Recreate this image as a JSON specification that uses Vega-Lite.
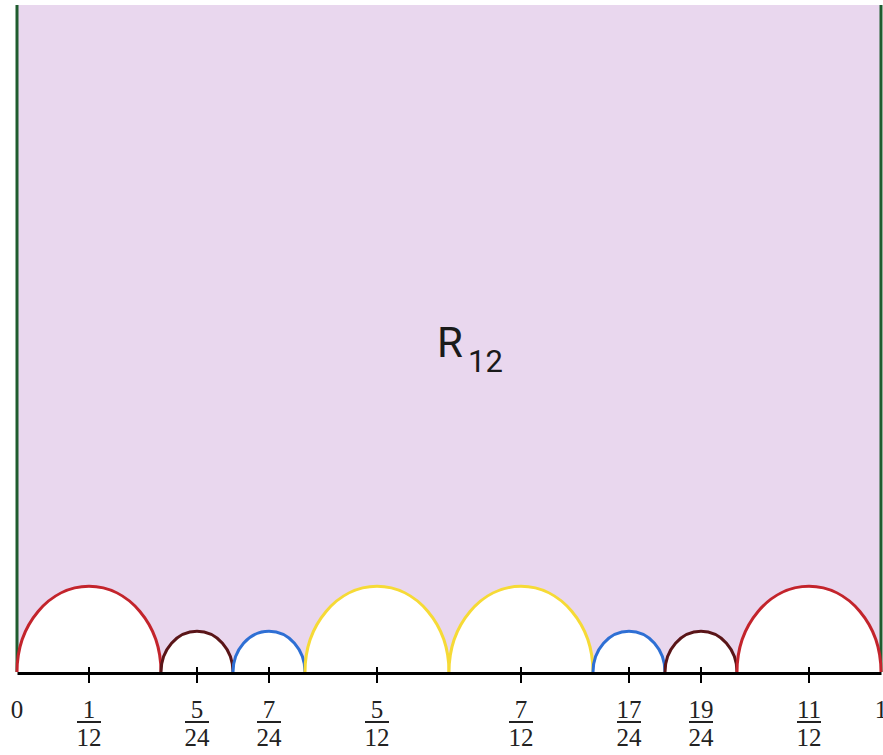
{
  "$schema": "https://vega.github.io/schema/vega-lite/v6.json",
  "width": 864,
  "height": 667,
  "autosize": "none",
  "padding": {"left": 17, "top": 5, "right": 2, "bottom": 83},
  "background": "white",
  "view": {"fill": "#e9d7ee", "stroke": null},
  "config": {
    "axisX": {"domain": true, "domainColor": "black", "domainWidth": 5, "ticks": false, "labels": false, "grid": false, "title": null, "zindex": 1}
  },
  "datasets": {
    "arcs": [
      {"center": 0.083333, "radius": 0.083333, "kind": "large", "pair": "1/12 & 11/12"},
      {"center": 0.208333, "radius": 0.041667, "kind": "small", "pair": "5/24 & 19/24"},
      {"center": 0.291667, "radius": 0.041667, "kind": "small", "pair": "7/24 & 17/24"},
      {"center": 0.416667, "radius": 0.083333, "kind": "large", "pair": "5/12 & 7/12"},
      {"center": 0.583333, "radius": 0.083333, "kind": "large", "pair": "5/12 & 7/12"},
      {"center": 0.708333, "radius": 0.041667, "kind": "small", "pair": "7/24 & 17/24"},
      {"center": 0.791667, "radius": 0.041667, "kind": "small", "pair": "5/24 & 19/24"},
      {"center": 0.916667, "radius": 0.083333, "kind": "large", "pair": "1/12 & 11/12"}
    ],
    "labels": [
      {"value": 0, "num": "0"},
      {"value": 0.083333, "num": "1", "den": "12"},
      {"value": 0.208333, "num": "5", "den": "24"},
      {"value": 0.291667, "num": "7", "den": "24"},
      {"value": 0.416667, "num": "5", "den": "12"},
      {"value": 0.583333, "num": "7", "den": "12"},
      {"value": 0.708333, "num": "17", "den": "24"},
      {"value": 0.791667, "num": "19", "den": "24"},
      {"value": 0.916667, "num": "11", "den": "12"},
      {"value": 1, "num": "1"}
    ]
  },
  "layer": [
    {
      "data": {"values": [{"edge": 0}, {"edge": 1}]},
      "mark": {"type": "rule", "color": "#1f5c2e", "strokeWidth": 3},
      "encoding": {
        "x": {"field": "edge", "type": "quantitative", "scale": {"domain": [0, 1], "nice": false, "zero": false}}
      }
    },
    {
      "data": {"name": "arcs"},
      "mark": {"type": "point", "filled": true, "fill": "white", "strokeWidth": 3, "opacity": 1, "fillOpacity": 1, "strokeOpacity": 1},
      "encoding": {
        "x": {"field": "center", "type": "quantitative", "scale": {"domain": [0, 1], "nice": false, "zero": false}},
        "y": {"datum": 0, "type": "quantitative", "scale": {"domain": [0, 1], "nice": false}, "axis": null},
        "size": {"field": "radius", "type": "quantitative", "scale": {"type": "pow", "exponent": 2, "domain": [0, 0.083333], "range": [0, 20736]}, "legend": null},
        "shape": {"field": "kind", "type": "nominal", "scale": {"domain": ["large", "small"], "range": ["M-1,0A1,1.19 0 0 1 1,0", "M-1,0A1,1.13 0 0 1 1,0"]}, "legend": null},
        "stroke": {"field": "pair", "type": "nominal", "scale": {"domain": ["1/12 & 11/12", "5/24 & 19/24", "7/24 & 17/24", "5/12 & 7/12"], "range": ["#c3242c", "#5a1518", "#2e6fd4", "#f6da36"]}, "legend": null}
      }
    },
    {
      "data": {"name": "labels"},
      "transform": [{"filter": "isValid(datum.den)"}],
      "mark": {"type": "tick", "orient": "vertical", "size": 16, "thickness": 2, "color": "black", "opacity": 1, "yOffset": 3},
      "encoding": {
        "x": {"field": "value", "type": "quantitative", "scale": {"domain": [0, 1], "nice": false, "zero": false}},
        "y": {"datum": 0, "type": "quantitative", "scale": {"domain": [0, 1], "nice": false}, "axis": null}
      }
    },
    {
      "data": {"name": "labels"},
      "transform": [{"filter": "isValid(datum.den)"}],
      "mark": {"type": "tick", "orient": "horizontal", "size": 24, "thickness": 2, "color": "#222", "opacity": 1, "yOffset": 50},
      "encoding": {
        "x": {"field": "value", "type": "quantitative", "scale": {"domain": [0, 1], "nice": false, "zero": false}},
        "y": {"datum": 0, "type": "quantitative", "scale": {"domain": [0, 1], "nice": false}, "axis": null}
      }
    },
    {
      "data": {"name": "labels"},
      "mark": {"type": "text", "font": "Liberation Serif", "fontSize": 25, "color": "#222", "align": "center", "baseline": "middle", "dy": 38},
      "encoding": {
        "x": {"field": "value", "type": "quantitative", "scale": {"domain": [0, 1], "nice": false, "zero": false}},
        "y": {"datum": 0, "type": "quantitative", "scale": {"domain": [0, 1], "nice": false}, "axis": null},
        "text": {"field": "num"}
      }
    },
    {
      "data": {"name": "labels"},
      "transform": [{"filter": "isValid(datum.den)"}],
      "mark": {"type": "text", "font": "Liberation Serif", "fontSize": 25, "color": "#222", "align": "center", "baseline": "middle", "dy": 66},
      "encoding": {
        "x": {"field": "value", "type": "quantitative", "scale": {"domain": [0, 1], "nice": false, "zero": false}},
        "y": {"datum": 0, "type": "quantitative", "scale": {"domain": [0, 1], "nice": false}, "axis": null},
        "text": {"field": "den"}
      }
    },
    {
      "data": {"values": [{"label": "R"}]},
      "mark": {"type": "text", "font": "Roboto", "fontSize": 42, "color": "#1a1a1a", "align": "center", "baseline": "alphabetic"},
      "encoding": {
        "x": {"datum": 0.501, "type": "quantitative", "scale": {"domain": [0, 1], "nice": false, "zero": false}},
        "y": {"datum": 0.4723, "type": "quantitative", "scale": {"domain": [0, 1], "nice": false}, "axis": null},
        "text": {"field": "label"}
      }
    },
    {
      "data": {"values": [{"label": "12"}]},
      "mark": {"type": "text", "font": "Roboto", "fontSize": 31, "color": "#1a1a1a", "align": "left", "baseline": "alphabetic"},
      "encoding": {
        "x": {"datum": 0.522, "type": "quantitative", "scale": {"domain": [0, 1], "nice": false, "zero": false}},
        "y": {"datum": 0.4498, "type": "quantitative", "scale": {"domain": [0, 1], "nice": false}, "axis": null},
        "text": {"field": "label"}
      }
    }
  ]
}
